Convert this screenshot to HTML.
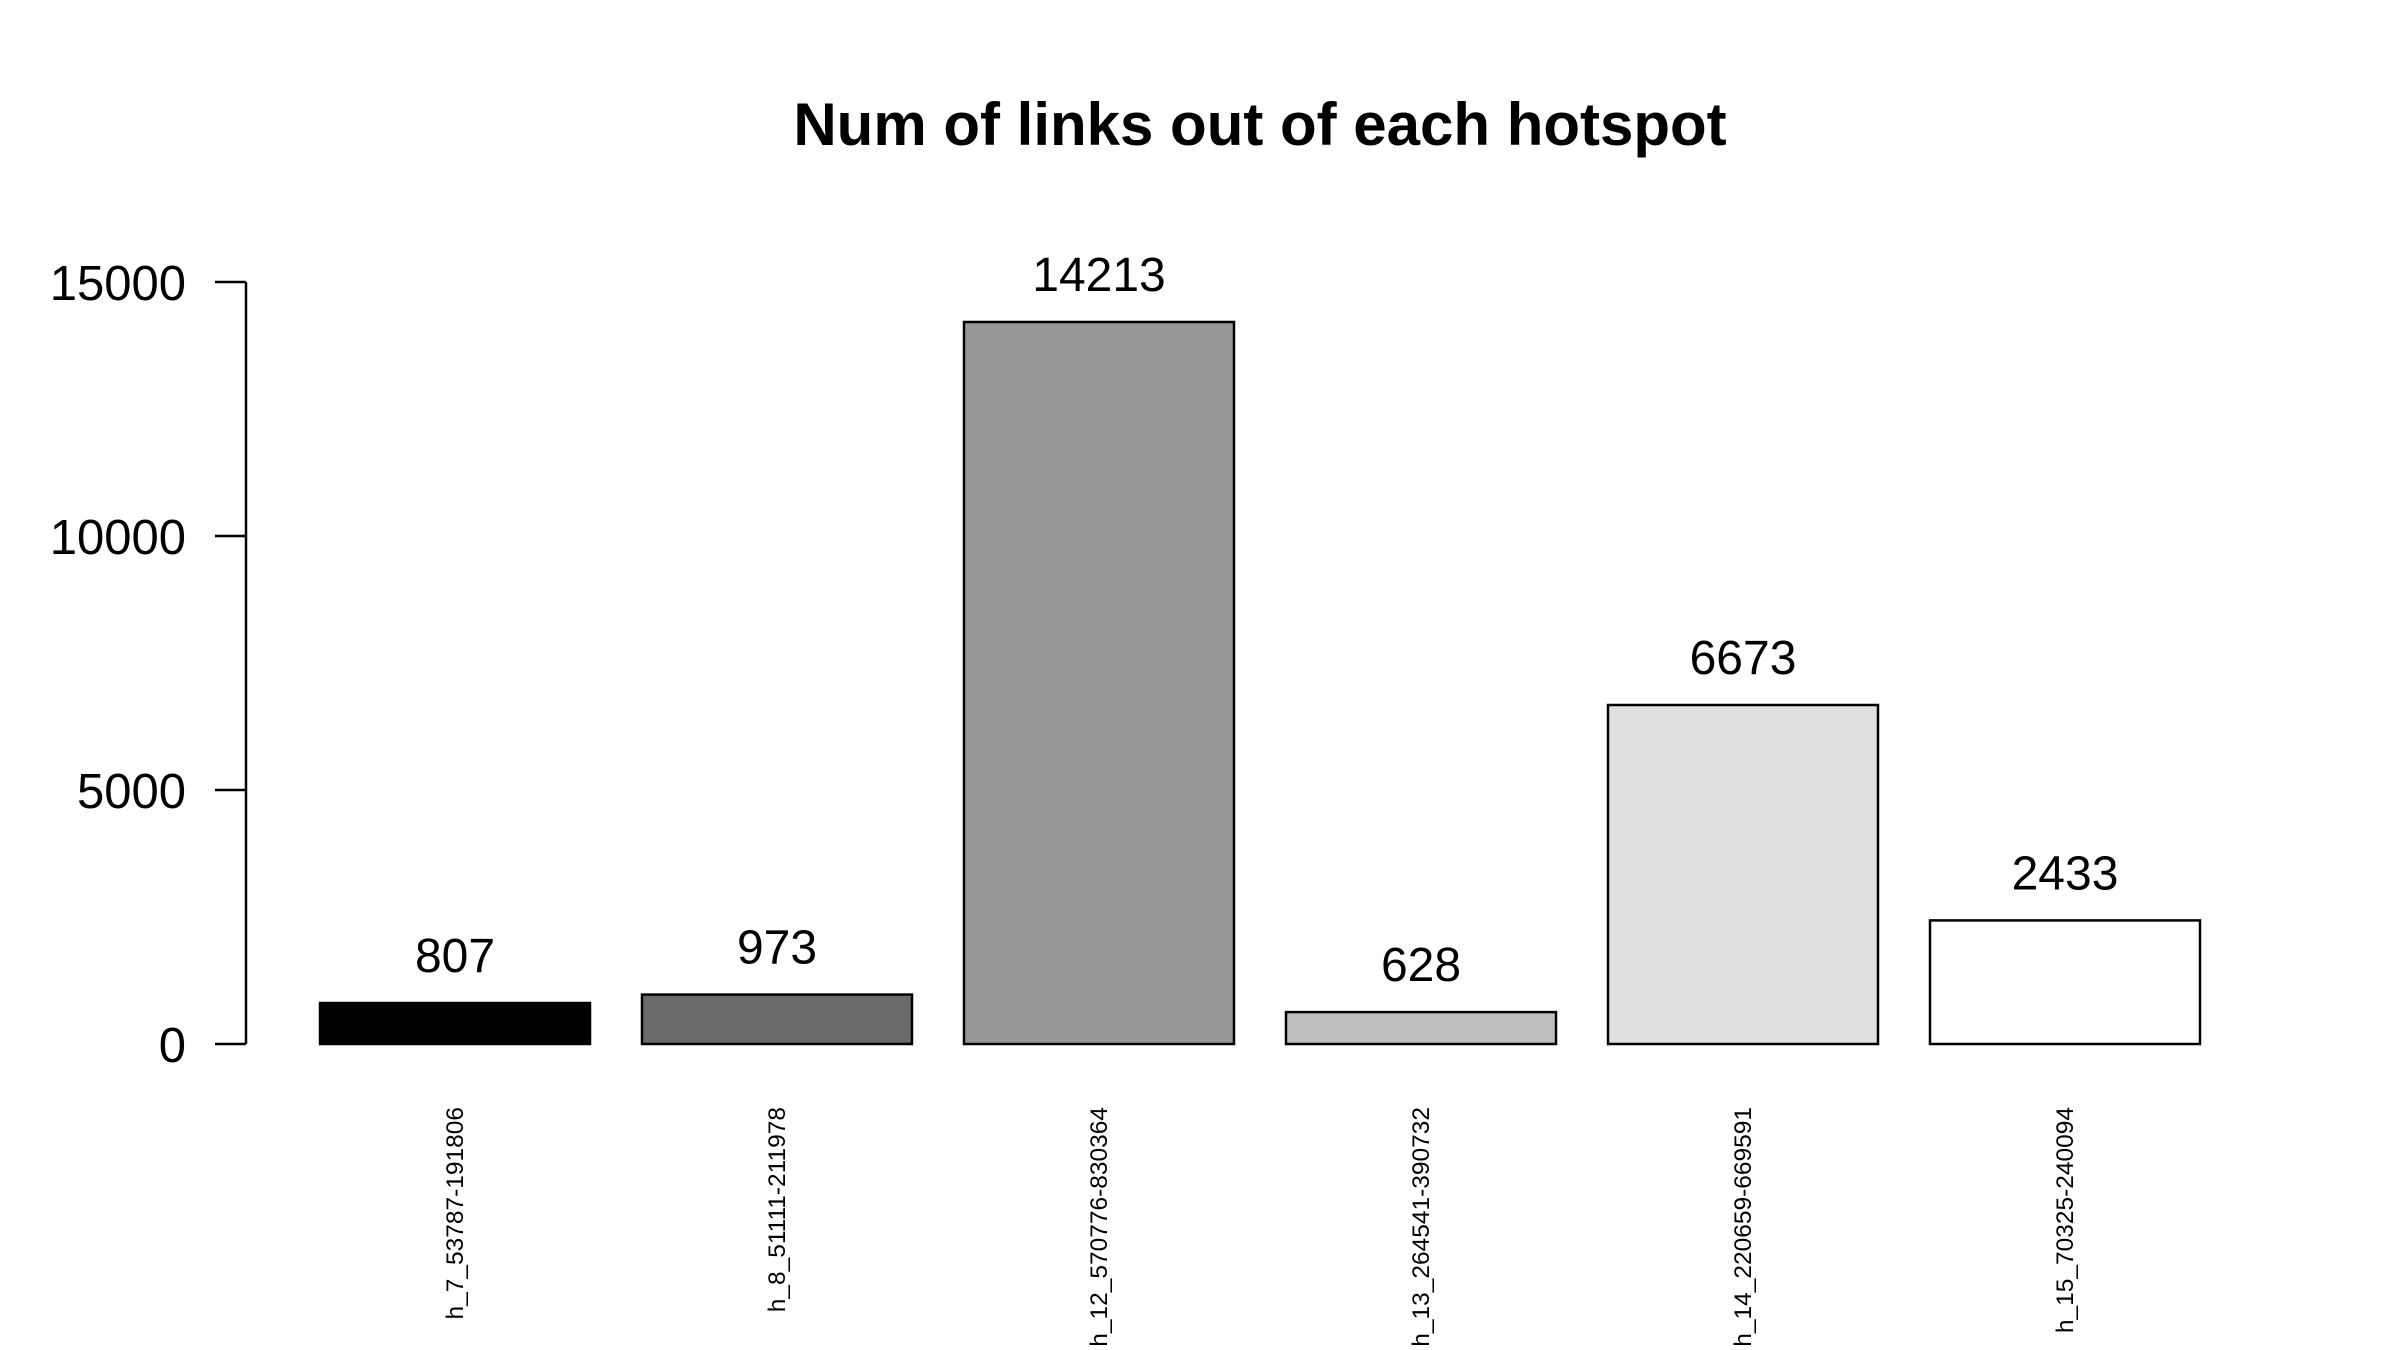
<!DOCTYPE html>
<html><head><meta charset="utf-8"><style>
html,body{margin:0;padding:0;background:#fff;}
svg{display:block;font-family:"Liberation Sans",Arial,sans-serif;}
</style></head><body>
<svg id="chart" width="2400" height="1350" viewBox="0 0 2400 1350" xmlns="http://www.w3.org/2000/svg">
<rect width="2400" height="1350" fill="#fff"/>
<text x="1260" y="145" text-anchor="middle" font-size="60" font-weight="bold">Num of links out of each hotspot</text>
<g id="axis"></g><g id="bars"></g>
</svg>
<script>
const categories = ["h_7_53787-191806","h_8_51111-211978","h_12_570776-830364","h_13_264541-390732","h_14_220659-669591","h_15_70325-240094"];
const values = [807, 973, 14213, 628, 6673, 2433];
const fills = ["#000000","#6a6a6a","#989898","#c0c0c0","#e0e0e0","#ffffff"];
const yTicks = [0, 5000, 10000, 15000];

const NS = "http://www.w3.org/2000/svg";
const y0 = 1044, y1 = 282, vmax = 15000;
const yScale = v => y0 - v / vmax * (y0 - y1);
const barLeft = i => 320 + i * 322;
const barW = 270;
function mk(tag, attrs, parent){const e=document.createElementNS(NS,tag);for(const k in attrs)e.setAttribute(k,attrs[k]);parent.appendChild(e);return e;}
const ax = document.getElementById('axis');
const bars = document.getElementById('bars');
let l = mk('line',{x1:246,x2:246,y1:yScale(0),y2:yScale(15000),stroke:'#000','stroke-width':2.5},ax);


yTicks.forEach(t=>{
  const tk = mk('line',{x1:215,x2:246,y1:yScale(t),y2:yScale(t),stroke:'#000','stroke-width':2.5},ax);
  
  
  const tx = mk('text',{x:186,y:yScale(t)+18,'text-anchor':'end','font-size':49},ax);
  tx.textContent = t;
  
  
});
values.forEach((v,i)=>{
  const r = mk('rect',{x:barLeft(i),y:yScale(v),width:barW,height:yScale(0)-yScale(v),fill:fills[i],stroke:'#000','stroke-width':2.5},bars);
  
  
  const cx = barLeft(i)+barW/2;
  const lab = mk('text',{x:cx,y:yScale(v)-31,'text-anchor':'middle','font-size':48},bars);
  lab.textContent = v;
  
  
  const cl = mk('text',{x:0,y:0,'text-anchor':'end','font-size':24.5,transform:`translate(${cx+8},1107) rotate(-90)`},bars);
  cl.textContent = categories[i];
  
  
});
</script>
</body></html>
